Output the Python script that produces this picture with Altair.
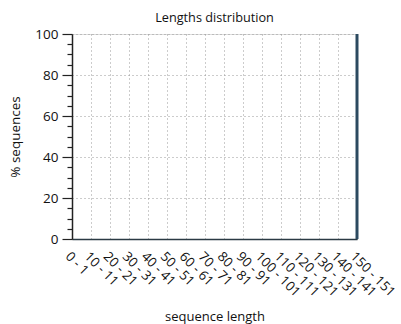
import altair as alt
import pandas as pd

categories = ["0 - 1", "10 - 11", "20 - 21", "30 - 31", "40 - 41", "50 - 51",
              "60 - 61", "70 - 71", "80 - 81", "90 - 91", "100 - 101", "110 - 111",
              "120 - 121", "130 - 131", "140 - 141", "150 - 151"]
percent = [0, 0, 0, 0, 0, 0, 0, 0, 0, 0, 0, 0, 0, 0, 0, 100]

df = pd.DataFrame({"length": categories, "pct": percent})

FONT = "Open Sans"

chart = alt.Chart(df).mark_bar(size=3, color="#2c4a60").encode(
    x=alt.X("length:O", sort=categories,
            scale=alt.Scale(type="point", padding=0),
            axis=alt.Axis(title="sequence length", labelAngle=45, labelAlign="left",
                          labelBaseline="top", labelPadding=10, ticks=False,
                          grid=True, gridDash=[1, 3], gridColor="#999",
                          domainColor="#2b3a44", domainWidth=1.5,
                          labelFontSize=13.3, titleFontSize=13, titleFontWeight="normal",
                          labelColor="#111", titleColor="#111", titlePadding=12)),
    y=alt.Y("pct:Q", scale=alt.Scale(domain=[0, 100], nice=False),
            axis=alt.Axis(title="% sequences", values=list(range(0, 101, 5)),
                          labelExpr="datum.value % 20 === 0 ? datum.label : ''",
                          tickSize={"condition": {"test": "datum.value % 20 === 0", "value": 10}, "value": 5},
                          tickColor="#222", tickWidth=1.2,
                          grid=True, gridDash=[1, 3], gridColor="#999",
                          gridOpacity={"condition": {"test": "datum.value % 20 === 0", "value": 1}, "value": 0},
                          domainColor="#222", domainWidth=1.5,
                          labelFontSize=13.5, titleFontSize=13.5, titleFontWeight="normal",
                          labelColor="#111", titleColor="#111", labelPadding=4, titlePadding=12)),
).properties(
    width=285, height=205,
    title=alt.TitleParams("Lengths distribution", fontSize=12.7, fontWeight="normal",
                          color="#111", anchor="middle", offset=2),
    autosize=alt.AutoSizeParams(type="none"),
    padding={"left": 72, "top": 34, "right": 44, "bottom": 85},
).configure_view(
    stroke="#222", strokeWidth=1.5
).configure(font=FONT)

chart.save("out.html", embed_options={"renderer": "svg", "actions": False})
